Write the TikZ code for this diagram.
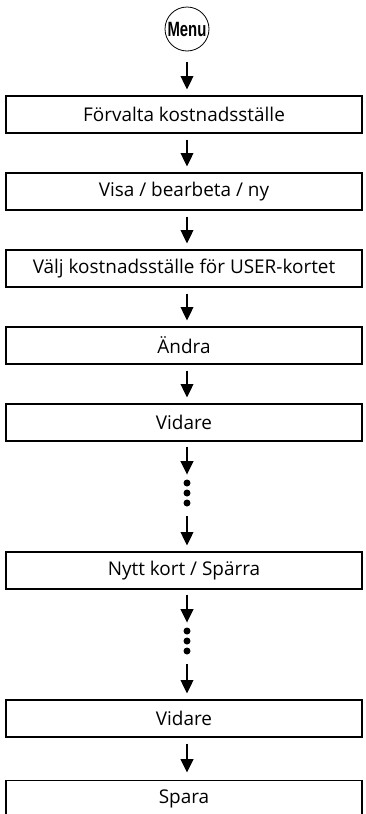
\documentclass[tikz,border=0pt]{standalone}
\usepackage{fontspec}
\setmainfont{Open Sans}
\newfontfamily\menufont{Liberation Sans}[FakeStretch=0.72]
\usetikzlibrary{arrows.meta}

\tikzset{
  box/.style={draw, line width=0.9pt, minimum width=267pt, minimum height=27.75pt,
    inner sep=0pt, font=\fontsize{14.2}{16}\selectfont},
  flow/.style={-{Triangle[length=10pt,width=9.5pt]}, line width=1.3pt},
  dot/.style={circle, fill, inner sep=0pt, minimum size=5.25pt},
}

\begin{document}
\begin{tikzpicture}[x=0.75pt,y=-0.75pt]
    \useasboundingbox (0,0) rectangle (366,814);
    \clip (0,0) rectangle (366,814);

    % Startknapp
    \node[circle, draw, line width=0.6pt, minimum size=33pt, inner sep=0pt,
      font=\menufont\bfseries\fontsize{15.5}{15.5}\selectfont] (menu) at (187,29) {Menu};

    % Menysteg
    \node[box] (b1) at (184,114.5) {Förvalta kostnadsställe};
    \node[box] (b2) at (184,191.5) {Visa / bearbeta / ny};
    \node[box] (b3) at (184,268.5) {Välj kostnadsställe för USER-kortet};
    \node[box] (b4) at (184,345.5) {Ändra};
    \node[box] (b5) at (184,422.5) {Vidare};
    \node[box] (b6) at (184,570.5) {Nytt kort / Spärra};
    \node[box] (b7) at (184,718.5) {Vidare};
    \node[box] (b8) at (184,799) {Spara};

    % Hoppade steg
    \node[dot] (d1a) at (187,483) {};
    \node[dot] (d1b) at (187,493) {};
    \node[dot] (d1c) at (187,503) {};
    \node[dot] (d2a) at (187,631) {};
    \node[dot] (d2b) at (187,641) {};
    \node[dot] (d2c) at (187,651) {};

    % Pilar
    \draw[flow, shorten <=8pt, shorten >=4.5pt] (menu) -- (menu |- b1.north);
    \foreach \a/\b in {b1/b2, b2/b3, b3/b4, b4/b5}
        \draw[flow, shorten <=4.5pt, shorten >=4.5pt] (\a.south -| menu) -- (\b.north -| menu);
    \draw[flow, shorten <=4.5pt, shorten >=5.6pt] (b7.south -| menu) -- (b8.north -| menu);
    \draw[flow, shorten <=3.75pt, shorten >=3.5pt] (b5.south -| menu) -- (d1a.north);
    \draw[flow, shorten <=7pt, shorten >=4.5pt] (d1c.south) -- (b6.north -| menu);
    \draw[flow, shorten <=3.75pt, shorten >=3.5pt] (b6.south -| menu) -- (d2a.north);
    \draw[flow, shorten <=7pt, shorten >=4.5pt] (d2c.south) -- (b7.north -| menu);
\end{tikzpicture}
\end{document}
